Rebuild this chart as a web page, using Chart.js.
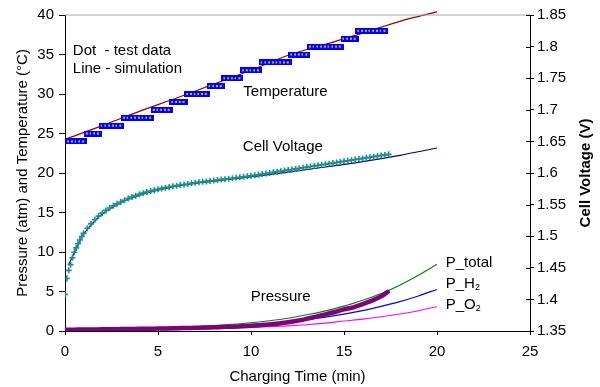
<!DOCTYPE html>
<html>
<head>
<meta charset="utf-8">
<script src="https://cdn.jsdelivr.net/npm/chart.js@4/dist/chart.umd.min.js"></script>
<style>
  html, body { margin: 0; padding: 0; background: #fff; }
  #wrap { width: 600px; height: 387px; }
</style>
</head>
<body>
<div id="wrap"><canvas id="c" width="600" height="387"></canvas></div>
<script>
// ---------- data ----------
const xTicks = [0, 5, 10, 15, 20, 25];
const leftTicks = [0, 5, 10, 15, 20, 25, 30, 35, 40];
const rightTicks = [1.35, 1.4, 1.45, 1.5, 1.55, 1.6, 1.65, 1.7, 1.75, 1.8, 1.85];

// Temperature test data (°C)
const tempTime = [0,0.2,0.4,0.6,0.8,1,1.2,1.4,1.6,1.8,2,2.2,2.4,2.6,2.8,3,3.2,3.4,3.6,3.8,4,4.2,4.4,4.6,4.8,5,5.2,5.4,5.6,5.8,6,6.2,6.4,6.6,6.8,7,7.2,7.4,7.6,7.8,8,8.2,8.4,8.6,8.8,9,9.2,9.4,9.6,9.8,10,10.2,10.4,10.6,10.8,11,11.2,11.4,11.6,11.8,12,12.2,12.4,12.6,12.8,13,13.2,13.4,13.6,13.8,14,14.2,14.4,14.6,14.8,15,15.2,15.4,15.6,15.8,16,16.2,16.4,16.6,16.8,17,17.2];
const tempData = [24,24,24,24,24,24, 25,25,25,25, 26,26,26,26,26,26, 27,27,27,27,27,27,27,27, 28,28,28,28,28, 29,29,29,29, 30,30,30,30,30,30, 31,31,31,31, 32,32,32,32,32, 33,33,33,33,33, 34,34,34,34,34,34,34,34, 35,35,35,35,35, 36,36,36,36,36,36,36,36,36, 37,37,37,37, 38,38,38,38,38,38,38,38];

// Temperature simulation (°C)
const tempSimTime = [0, 2, 4, 6, 8, 10, 12, 14, 16, 18, 20];
const tempSim = [24.25, 26.0, 27.8, 29.5, 31.25, 33.0, 34.9, 36.3, 37.7, 39.2, 40.4];

// Cell voltage test data (V)
const voltTime = [0,0.1,0.2,0.3,0.4,0.5,0.6,0.7,0.8,0.9,1.0,1.2,1.4,1.6,1.8,2,2.2,2.4,2.6,2.8,3,3.2,3.4,3.6,3.8,4,4.2,4.4,4.6,4.8,5,5.2,5.4,5.6,5.8,6,6.2,6.4,6.6,6.8,7,7.2,7.4,7.6,7.8,8,8.2,8.4,8.6,8.8,9,9.2,9.4,9.6,9.8,10,10.2,10.4,10.6,10.8,11,11.2,11.4,11.6,11.8,12,12.2,12.4,12.6,12.8,13,13.2,13.4,13.6,13.8,14,14.2,14.4,14.6,14.8,15,15.2,15.4,15.6,15.8,16,16.2,16.4,16.6,16.8,17,17.2,17.4];
const voltData = [1.408,1.433,1.446,1.455,1.466,1.4745,1.4815,1.488,1.494,1.4995,1.5045,1.5125,1.5195,1.526,1.5318,1.5365,1.5408,1.5446,1.548,1.5512,1.5542,1.557,1.5596,1.562,1.5642,1.5662,1.5681,1.5698,1.5714,1.5729,1.5743,1.5756,1.5768,1.5779,1.579,1.58,1.5809,1.5818,1.5827,1.5836,1.5845,1.5853,1.586,1.5867,1.5875,1.5882,1.5889,1.5896,1.5903,1.591,1.5917,1.5924,1.5931,1.5939,1.5947,1.5955,1.5964,1.5973,1.5983,1.5992,1.6001,1.601,1.6019,1.6029,1.6038,1.6047,1.6056,1.6065,1.6075,1.6084,1.6093,1.6102,1.6111,1.6121,1.613,1.6139,1.6148,1.6157,1.6167,1.6176,1.6185,1.6194,1.6203,1.6213,1.6222,1.6231,1.624,1.6249,1.6259,1.6268,1.6277,1.6286,1.6295];

// Cell voltage simulation (V)
const voltSimTime = [0.2, 0.5, 1, 1.5, 2, 3, 4, 5, 6, 7, 8, 10, 12, 14, 16, 18, 20];
const voltSim = [1.455, 1.474, 1.503, 1.521, 1.535, 1.553, 1.565, 1.573, 1.579, 1.5835, 1.587, 1.594, 1.6015, 1.6095, 1.618, 1.628, 1.6395];

// Pressure test data (atm)
const pressTime = [0,0.5,1,1.5,2,2.5,3,3.5,4,4.5,5,5.5,6,6.5,7,7.5,8,8.5,9,9.5,10,10.5,11,11.5,12,12.5,13,13.5,14,14.5,15,15.5,16,16.5,17,17.35];
const pressData = [0.15,0.17,0.18,0.2,0.21,0.22,0.24,0.25,0.27,0.29,0.31,0.33,0.35,0.38,0.41,0.44,0.47,0.51,0.55,0.6,0.66,0.74,0.83,0.95,1.1,1.3,1.55,1.82,2.1,2.4,2.73,3.0,3.4,3.85,4.4,4.95];

// Pressure simulations (atm)
const pSimTime = [0, 2, 4, 6, 8, 9, 10, 11, 12, 13, 14, 15, 16, 17, 18, 19, 20];
const pTotal = [0.15, 0.22, 0.32, 0.45, 0.68, 0.85, 1.05, 1.3, 1.62, 2.05, 2.55, 3.15, 3.9, 4.75, 5.8, 7.05, 8.45];
const pH2 = [0.1, 0.15, 0.22, 0.32, 0.5, 0.63, 0.8, 0.98, 1.18, 1.45, 1.76, 2.14, 2.58, 3.12, 3.72, 4.44, 5.26];
const pO2 = [0.05, 0.08, 0.12, 0.18, 0.28, 0.36, 0.46, 0.54, 0.65, 0.8, 1.0, 1.26, 1.5, 1.8, 2.15, 2.57, 3.07];

// ---------- helpers ----------
const pts = (xs, ys) => xs.map((t, i) => ({ x: t, y: ys[i] }));
const FONT = '"Liberation Sans", Arial, Helvetica, sans-serif';

// hollow rectangle marker for temperature data
const tMark = document.createElement('canvas');
tMark.width = 7; tMark.height = 6;
(() => {
  const g = tMark.getContext('2d');
  g.fillStyle = '#0000ff';
  g.fillRect(0, 0, 7, 6);
  g.fillStyle = '#b8b8ff';
  g.fillRect(2, 2, 2, 2);
})();

const notes = [
  { text: 'Dot  - test data', x: 0.42, y: 35.5 },
  { text: 'Line - simulation', x: 0.42, y: 33.2 },
  { text: 'Temperature', x: 9.59, y: 30.3 },
  { text: 'Cell Voltage', x: 9.56, y: 23.3 },
  { text: 'Pressure', x: 9.98, y: 4.3 },
  { text: 'P_total', x: 20.47, y: 8.64 },
  { text: 'P_H', sub: '2', x: 20.47, y: 6.0 },
  { text: 'P_O', sub: '2', x: 20.47, y: 3.3 }
];

const notesPlugin = {
  id: 'notes',
  afterDraw(chart) {
    const { ctx, chartArea: a, scales } = chart;
    const sx = scales.x, sy = scales.y, s2 = scales.y2;
    ctx.save();
    // top border of the plot area
    ctx.strokeStyle = '#a6a6a6';
    ctx.lineWidth = 1.2;
    ctx.beginPath();
    ctx.moveTo(a.left, a.top);
    ctx.lineTo(a.right, a.top);
    ctx.stroke();
    // inner half of the cross tick marks on the right axis
    ctx.strokeStyle = '#000';
    ctx.lineWidth = 1;
    s2.ticks.forEach(t => {
      const py = Math.round(s2.getPixelForValue(t.value)) + 0.5;
      ctx.beginPath();
      ctx.moveTo(a.right - 4, py);
      ctx.lineTo(a.right, py);
      ctx.stroke();
    });
    // text notes
    ctx.fillStyle = '#000';
    ctx.textBaseline = 'middle';
    ctx.textAlign = 'left';
    notes.forEach(n => {
      const px = sx.getPixelForValue(n.x), py = sy.getPixelForValue(n.y);
      ctx.font = '15px ' + FONT;
      ctx.fillText(n.text, px, py);
      if (n.sub) {
        const w = ctx.measureText(n.text).width;
        ctx.font = '9px ' + FONT;
        ctx.fillText(n.sub, px + w, py + 4);
      }
    });
    // right axis title (reads bottom to top)
    ctx.font = 'bold 15px ' + FONT;
    ctx.textAlign = 'center';
    ctx.translate(chart.width - 14.5, (a.top + a.bottom) / 2);
    ctx.rotate(-Math.PI / 2);
    ctx.fillText('Cell Voltage (V)', 0, 0);
    ctx.restore();
  }
};

Chart.defaults.font.family = FONT;
Chart.defaults.font.size = 15;
Chart.defaults.color = '#000';

new Chart(document.getElementById('c'), {
  type: 'line',
  data: {
    datasets: [
      { label: 'Pressure data', data: pts(pressTime, pressData), yAxisID: 'y',
        borderColor: '#800080', borderWidth: 4.5, pointRadius: 0, tension: 0.3, borderCapStyle: 'round' },
      { label: 'Temperature data', data: pts(tempTime, tempData), yAxisID: 'y',
        showLine: false, pointStyle: tMark, pointRadius: 3 },
      { label: 'Cell voltage data', data: pts(voltTime, voltData), yAxisID: 'y2',
        showLine: false, pointStyle: 'cross', pointRadius: 3, pointBorderWidth: 1.6,
        borderColor: '#168f8f', backgroundColor: '#168f8f' },
      { label: 'Temperature sim', data: pts(tempSimTime, tempSim), yAxisID: 'y',
        borderColor: '#990000', borderWidth: 1.2, pointRadius: 0, cubicInterpolationMode: 'monotone', clip: false },
      { label: 'Voltage sim', data: pts(voltSimTime, voltSim), yAxisID: 'y2',
        borderColor: '#000080', borderWidth: 1.2, pointRadius: 0, cubicInterpolationMode: 'monotone' },
      { label: 'P_total', data: pts(pSimTime, pTotal), yAxisID: 'y',
        borderColor: '#008000', borderWidth: 1.1, pointRadius: 0, cubicInterpolationMode: 'monotone' },
      { label: 'P_H2', data: pts(pSimTime, pH2), yAxisID: 'y',
        borderColor: '#0000ff', borderWidth: 1.1, pointRadius: 0, cubicInterpolationMode: 'monotone' },
      { label: 'P_O2', data: pts(pSimTime, pO2), yAxisID: 'y',
        borderColor: '#ff00ff', borderWidth: 1.1, pointRadius: 0, cubicInterpolationMode: 'monotone' }
    ]
  },
  options: {
    responsive: false,
    animation: false,
    devicePixelRatio: 1,
    layout: { padding: { top: 15, left: 0, right: 0, bottom: 0 } },
    plugins: { legend: { display: false }, tooltip: { enabled: false } },
    scales: {
      x: {
        type: 'linear', min: 0, max: 25,
        afterBuildTicks: s => { s.ticks = xTicks.map(v => ({ value: v })); },
        afterFit: s => { s.height = 56; },
        grid: { drawOnChartArea: false, tickLength: 4, color: '#000' },
        border: { color: '#000', width: 1 },
        ticks: { padding: 8, font: { size: 15 }, color: '#000' },
        title: { display: true, text: 'Charging Time (min)', font: { size: 15 }, padding: { top: 0, bottom: 1 }, color: '#000' }
      },
      y: {
        type: 'linear', position: 'left', min: 0, max: 40,
        afterBuildTicks: s => { s.ticks = leftTicks.map(v => ({ value: v })); },
        afterFit: s => { s.width = 65; },
        grid: { drawOnChartArea: false, tickLength: 6, color: '#000' },
        border: { color: '#000', width: 1 },
        ticks: { padding: 5, font: { size: 15 }, color: '#000' },
        title: { display: true, text: 'Pressure (atm) and Temperature (°C)', font: { size: 15 }, padding: { top: 13.5, bottom: 0 }, color: '#000' }
      },
      y2: {
        type: 'linear', position: 'right', min: 1.35, max: 1.85,
        afterBuildTicks: s => { s.ticks = rightTicks.map(v => ({ value: v })); },
        afterFit: s => { s.width = 70; },
        grid: { drawOnChartArea: false, tickLength: 4, color: '#000' },
        border: { color: '#000', width: 1 },
        ticks: { padding: 3, font: { size: 15 }, color: '#000',
                 callback: v => String(+v.toFixed(2)) }
      }
    }
  },
  plugins: [notesPlugin]
});
</script>
</body>
</html>
